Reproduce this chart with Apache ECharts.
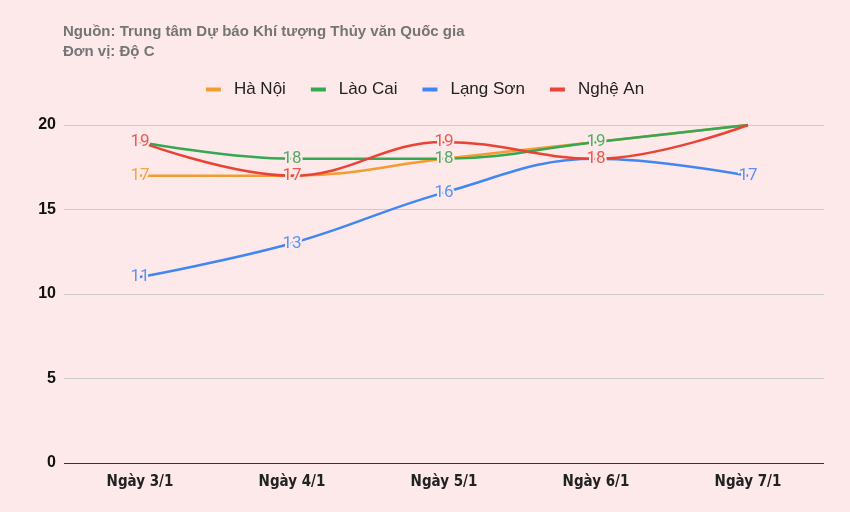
<!DOCTYPE html>
<html><head><meta charset="utf-8">
<script src="https://cdn.jsdelivr.net/npm/echarts@6/dist/echarts.min.js"></script>
<style>html,body{margin:0;padding:0;background:#fde9e9;}#c{width:850px;height:512px;}</style>
</head><body><div id="c"></div>
<script>
const categories = ['Ngày 3/1','Ngày 4/1','Ngày 5/1','Ngày 6/1','Ngày 7/1'];
const haNoi = [17, 17, 18, 19, 20];
const laoCai = [19, 18, 18, 19, 20];
const langSon = [11, 13, 16, 18, 17];
const ngheAn = [19, 17, 19, 18, 20];
const yTicks = [0, 5, 10, 15, 20];

const names = ['Hà Nội','Lào Cai','Lạng Sơn','Nghệ An'];
const colors = ['#f39c2f','#34a853','#4285f4','#ea4335'];
const labelColors = ['#f3a445','#4caf63','#5a93f5','#ea5a4d'];
const sets = [haNoi, laoCai, langSon, ngheAn];

const chart = echarts.init(document.getElementById('c'));
const series = sets.map((arr, i) => ({
  name: names[i],
  type: 'line',
  smooth: 0.4,
  symbol: 'circle',
  symbolSize: 0,
  showSymbol: true,
  lineStyle: { width: 2.5, color: colors[i] },
  itemStyle: { color: colors[i] },
  data: arr.map((v, j) => ({
    value: v,
    label: { show: v !== 20 }
  })),
  label: {
    show: true,
    position: 'inside',
    color: labelColors[i],
    fontSize: 17,
    fontFamily: 'Roboto',
    textBorderColor: '#fde9e9',
    textBorderWidth: 4
  },
  labelLayout: { hideOverlap: false },
  z: 2 + i
}));

chart.setOption({
  backgroundColor: '#fde9e9',
  animation: false,
  title: {
    text: 'Nguồn: Trung tâm Dự báo Khí tượng Thủy văn Quốc gia\nĐơn vị: Độ C',
    left: 58, top: 17,
    textStyle: { fontSize: 15, fontWeight: 'bold', color: '#757575', fontFamily: 'Liberation Sans', lineHeight: 20 }
  },
  legend: {
    top: 76, left: 'center',
    icon: 'rect', itemWidth: 15, itemHeight: 4, itemGap: 25,
    textStyle: { fontSize: 17, color: '#222', fontFamily: 'Liberation Sans', padding: [0, 0, 0, 8] },
    data: names
  },
  grid: { left: 64, right: 26, top: 125, bottom: 49, containLabel: false },
  xAxis: {
    type: 'category', data: categories, boundaryGap: true,
    axisLine: { show: false }, axisTick: { show: false },
    axisLabel: { color: '#222', fontWeight: 'bold', fontSize: 15, fontFamily: 'DejaVu Sans Condensed, Liberation Sans', margin: 12 }
  },
  yAxis: {
    type: 'value', min: 0, max: 20, interval: 5,
    axisLine: { show: false }, axisTick: { show: false },
    axisLabel: { color: '#111', fontWeight: 'bold', fontSize: 16, fontFamily: 'Liberation Sans', margin: 8,
      formatter: v => yTicks.includes(v) ? String(v) : '' },
    splitLine: { lineStyle: { color: ['#333', '#cccccc', '#cccccc', '#cccccc', '#cccccc'], width: 1 } }
  },
  series: series
});
</script></body></html>
